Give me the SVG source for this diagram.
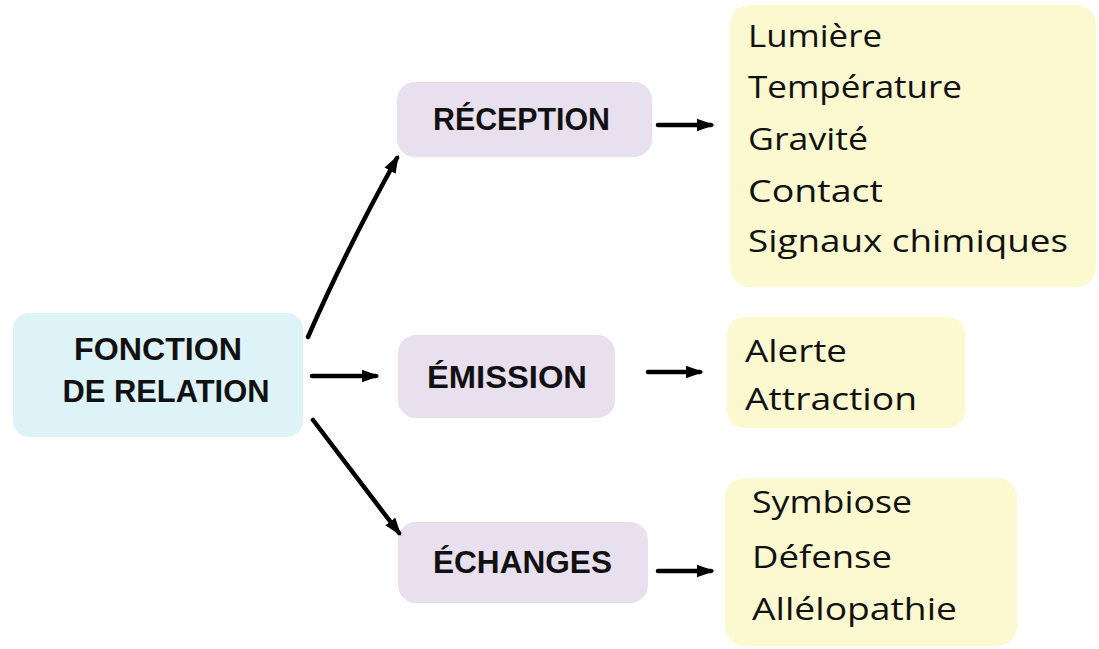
<svg xmlns="http://www.w3.org/2000/svg" width="1099" height="649" viewBox="0 0 1099 649">
<style>
.bg{fill:#ffffff}
.blue{fill:#ddf3f7}
.purple{fill:#e9e0ef}
.yellow{fill:#fcf9d0}
.b{font-family:"Liberation Sans",Arial,sans-serif;font-weight:bold;font-size:31px;fill:#111}
.r{font-family:"Open Sans","Liberation Sans",sans-serif;font-size:31px;fill:#111}
.c{stroke:#000;stroke-width:4.5;fill:none;stroke-linecap:round}
</style>
<defs>
<marker id="ah" markerWidth="4" markerHeight="4" refX="3.2" refY="2" orient="auto" markerUnits="strokeWidth">
<path d="M0,0.6 L4,2 L0,3.4 z" fill="#000"/>
</marker>
</defs>
<rect class="bg" x="0" y="0" width="1099" height="649"/>
<g id="fonction">
<rect class="blue" x="13" y="313" width="290" height="124" rx="16"/>
<text class="b" x="158" y="360" text-anchor="middle" textLength="168" lengthAdjust="spacingAndGlyphs">FONCTION</text>
<text class="b" x="166" y="402" text-anchor="middle" textLength="207" lengthAdjust="spacingAndGlyphs">DE RELATION</text>
</g>
<g id="reception">
<rect class="purple" x="397" y="82" width="255" height="75" rx="18"/>
<text class="b" x="433" y="130" textLength="177" lengthAdjust="spacingAndGlyphs">RÉCEPTION</text>
</g>
<g id="emission">
<rect class="purple" x="398" y="335" width="217" height="83" rx="18"/>
<text class="b" x="427" y="388" textLength="160" lengthAdjust="spacingAndGlyphs">ÉMISSION</text>
</g>
<g id="echanges">
<rect class="purple" x="398" y="522" width="250" height="81" rx="18"/>
<text class="b" x="433" y="573" textLength="179" lengthAdjust="spacingAndGlyphs">ÉCHANGES</text>
</g>
<g id="reception-list">
<rect class="yellow" x="730" y="5" width="366" height="282" rx="20"/>
<text class="r" x="748" y="47" textLength="134" lengthAdjust="spacingAndGlyphs">Lumière</text>
<text class="r" x="748" y="98" textLength="214" lengthAdjust="spacingAndGlyphs">Température</text>
<text class="r" x="748" y="150" textLength="120" lengthAdjust="spacingAndGlyphs">Gravité</text>
<text class="r" x="748" y="202" textLength="135" lengthAdjust="spacingAndGlyphs">Contact</text>
<text class="r" x="748" y="252" textLength="320" lengthAdjust="spacingAndGlyphs">Signaux chimiques</text>
</g>
<g id="emission-list">
<rect class="yellow" x="727" y="317" width="238" height="111" rx="18"/>
<text class="r" x="745" y="362" textLength="102" lengthAdjust="spacingAndGlyphs">Alerte</text>
<text class="r" x="745" y="410" textLength="172" lengthAdjust="spacingAndGlyphs">Attraction</text>
</g>
<g id="echanges-list">
<rect class="yellow" x="725" y="478" width="292" height="168" rx="20"/>
<text class="r" x="752" y="513" textLength="160" lengthAdjust="spacingAndGlyphs">Symbiose</text>
<text class="r" x="752" y="568" textLength="140" lengthAdjust="spacingAndGlyphs">Défense</text>
<text class="r" x="752" y="620" textLength="205" lengthAdjust="spacingAndGlyphs">Allélopathie</text>
</g>
<g id="connectors">
<path class="c" d="M308,337 Q345,252 397,158" marker-end="url(#ah)"/>
<path class="c" d="M312,376 L376,376" marker-end="url(#ah)"/>
<path class="c" d="M313,420 L399,533" marker-end="url(#ah)"/>
<path class="c" d="M658,125 L711,125" marker-end="url(#ah)"/>
<path class="c" d="M648,372 L700,372" marker-end="url(#ah)"/>
<path class="c" d="M658,571 L711,571" marker-end="url(#ah)"/>
</g>
</svg>
